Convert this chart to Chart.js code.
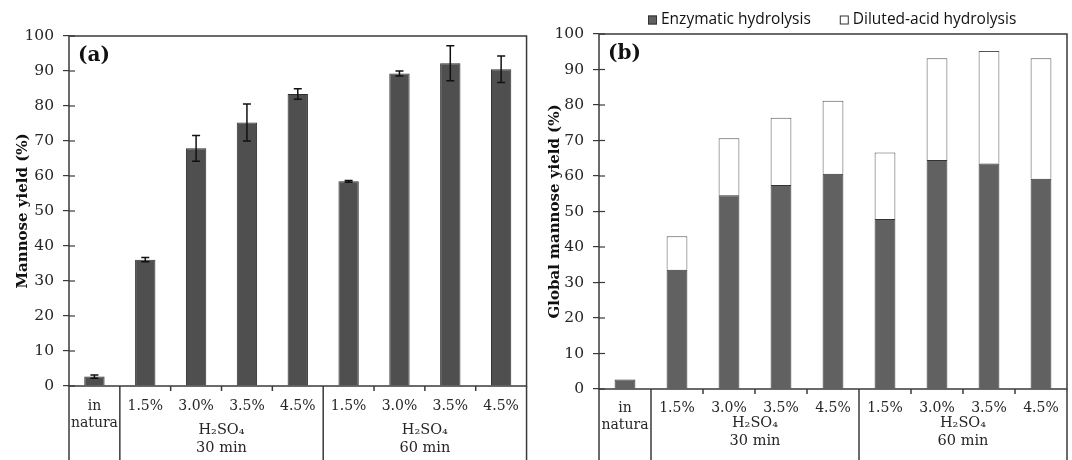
<!DOCTYPE html>
<html>
<head>
<meta charset="utf-8">
<script src="https://cdn.jsdelivr.net/npm/chart.js@4/dist/chart.umd.min.js"></script>
<style>
  body { margin: 0; background: #fff; }
  #wrap { position: relative; width: 1072px; height: 460px; }
  #chartA { position: absolute; left: 0; top: 0; }
  #chartB { position: absolute; left: 531px; top: 0; }
</style>
</head>
<body>
<div id="wrap">
  <canvas id="chartA" width="531" height="460"></canvas>
  <canvas id="chartB" width="541" height="460"></canvas>
</div>
<script>
// values
let categories = [['in', 'natura'], '1.5%', '3.0%', '3.5%', '4.5%', '1.5%', '3.0%', '3.5%', '4.5%'];
let mannose_yield = [2.7, 36.1, 67.9, 75.3, 83.4, 58.5, 89.3, 92.2, 90.5];
let mannose_err = [0.45, 0.6, 3.7, 5.3, 1.5, 0.25, 0.7, 5.0, 3.8];
let enzymatic = [2.7, 33.6, 54.6, 57.5, 60.6, 47.9, 64.5, 63.5, 59.2];
let diluted_acid = [0, 9.4, 16.0, 18.9, 20.6, 18.7, 28.7, 31.7, 34.0];
let groups = [
  { from: 1, to: 4, lines: ['H₂SO₄', '30 min'] },
  { from: 5, to: 8, lines: ['H₂SO₄', '60 min'] }
];
let y_min = 0, y_max = 100, y_step = 10;

let serif = '"DejaVu Serif", serif';
let line_col = '#3a3a3a';
let text_col = '#262626';

// box round the plot, category separators, cross ticks, group labels, panel letter
const framePlugin = {
  id: 'frame',
  afterDraw(chart, args, opts) {
    const ctx = chart.ctx;
    const a = chart.chartArea;
    const xs = chart.scales.x;
    const ys = chart.scales.y;
    const n = chart.data.labels.length;
    const half = (xs.getPixelForValue(1) - xs.getPixelForValue(0)) / 2;
    ctx.save();
    ctx.strokeStyle = line_col;
    ctx.lineWidth = 1.5;
    ctx.strokeRect(a.left, a.top, a.right - a.left, a.bottom - a.top);

    // boundaries under the axis
    let longOnes = [0, n];
    groups.forEach(g => longOnes.push(g.from));
    for (let k = 0; k <= n; k++) {
      let px = k < n ? xs.getPixelForValue(k) - half : xs.getPixelForValue(n - 1) + half;
      let bottom = longOnes.includes(k) ? chart.height : a.bottom + 5;
      ctx.beginPath();
      ctx.moveTo(px, a.bottom);
      ctx.lineTo(px, bottom);
      ctx.stroke();
    }

    // inner half of the y ticks
    ctx.lineWidth = 1.2;
    ys.ticks.forEach(t => {
      let py = ys.getPixelForValue(t.value);
      ctx.beginPath();
      ctx.moveTo(a.left, py);
      ctx.lineTo(a.left + 6, py);
      ctx.stroke();
    });

    // group labels
    ctx.fillStyle = text_col;
    ctx.font = '14.5px ' + serif;
    ctx.textAlign = 'center';
    ctx.textBaseline = 'middle';
    groups.forEach(g => {
      let cx = (xs.getPixelForValue(g.from) + xs.getPixelForValue(g.to)) / 2;
      g.lines.forEach((txt, i) => {
        ctx.fillText(txt, cx, a.bottom + opts.lineOffsets[i]);
      });
    });

    // panel letter
    ctx.fillStyle = '#111';
    ctx.font = 'bold 20px ' + serif;
    ctx.textAlign = 'left';
    ctx.fillText(opts.letter, a.left + 9, a.top + opts.letterDy);
    ctx.restore();
  }
};

// error bars for panel (a)
const errorBarPlugin = {
  id: 'errorBars',
  afterDatasetsDraw(chart, args, opts) {
    if (!opts.errors) return;
    const ctx = chart.ctx;
    const ys = chart.scales.y;
    const meta = chart.getDatasetMeta(0);
    const vals = chart.data.datasets[0].data;
    ctx.save();
    ctx.strokeStyle = '#111';
    ctx.lineWidth = 1.5;
    meta.data.forEach((bar, i) => {
      let top = ys.getPixelForValue(vals[i] + opts.errors[i]);
      let bot = ys.getPixelForValue(vals[i] - opts.errors[i]);
      ctx.beginPath();
      ctx.moveTo(bar.x, top); ctx.lineTo(bar.x, bot);
      ctx.moveTo(bar.x - 4, top); ctx.lineTo(bar.x + 4, top);
      ctx.moveTo(bar.x - 4, bot); ctx.lineTo(bar.x + 4, bot);
      ctx.stroke();
    });
    ctx.restore();
  }
};

// legend drawn above panel (b)
const topLegendPlugin = {
  id: 'topLegend',
  afterDraw(chart, args, opts) {
    if (!opts.x) return;
    const ctx = chart.ctx;
    ctx.save();
    ctx.font = '15.5px "Open Sans", sans-serif';
    ctx.textBaseline = 'middle';
    ctx.textAlign = 'left';
    let x = opts.x;
    chart.data.datasets.forEach(ds => {
      ctx.fillStyle = ds.backgroundColor;
      ctx.strokeStyle = '#333';
      ctx.lineWidth = 1;
      ctx.fillRect(x, opts.y - 4.5, 9, 9);
      ctx.strokeRect(x + 0.5, opts.y - 4, 8, 8);
      ctx.fillStyle = '#111';
      ctx.fillText(ds.label, x + 13, opts.y);
      x += 13 + ctx.measureText(ds.label).width + 29;
    });
    ctx.restore();
  }
};

function makeOptions(cfg) {
  return {
    responsive: false,
    animation: false,
    devicePixelRatio: 1,
    layout: { padding: { top: cfg.top, right: cfg.right, left: 0, bottom: 0 } },
    plugins: {
      legend: { display: false },
      tooltip: { enabled: false },
      frame: { letter: cfg.letter, letterDy: cfg.letterDy, lineOffsets: cfg.lineOffsets },
      errorBars: { errors: cfg.errors },
      topLegend: cfg.legend || {}
    },
    scales: {
      x: {
        stacked: cfg.stacked,
        border: { display: false },
        grid: { display: false, drawTicks: false },
        ticks: { font: { family: serif, size: 14 }, color: text_col, padding: cfg.tickPad, maxRotation: 0, autoSkip: false },
        afterFit: s => { s.height = cfg.xHeight; }
      },
      y: {
        stacked: cfg.stacked,
        min: y_min, max: y_max,
        border: { display: false },
        grid: { drawOnChartArea: false, tickLength: 6, color: line_col, lineWidth: 1.2 },
        ticks: { stepSize: y_step, font: { family: serif, size: 15.5 }, color: text_col, padding: 9 },
        title: { display: true, text: cfg.yTitle, font: { family: serif, size: 15, weight: 'bold' }, color: '#111', padding: { top: cfg.titlePad, bottom: 0 } },
        afterFit: s => { s.width = cfg.yWidth; }
      }
    }
  };
}

let chartA = new Chart(document.getElementById('chartA'), {
  type: 'bar',
  data: {
    labels: categories,
    datasets: [{
      label: 'Mannose yield',
      data: mannose_yield,
      backgroundColor: '#4f4f4f',
      borderColor: '#2e2e2e',
      borderWidth: 1,
      barPercentage: 0.4,
      categoryPercentage: 1
    }]
  },
  options: makeOptions({
    top: 36, right: 1.5, stacked: false, letter: '(a)', letterDy: 20,
    lineOffsets: [44, 62], tickPad: 12, xHeight: 74, yWidth: 69,
    yTitle: 'Mannose yield (%)', titlePad: 14, errors: mannose_err
  }),
  plugins: [framePlugin, errorBarPlugin]
});

let chartB = new Chart(document.getElementById('chartB'), {
  type: 'bar',
  data: {
    labels: categories,
    datasets: [{
      label: 'Enzymatic hydrolysis',
      data: enzymatic,
      backgroundColor: '#616161',
      borderColor: '#333',
      borderWidth: 1,
      barPercentage: 0.4,
      categoryPercentage: 1
    }, {
      label: 'Diluted-acid hydrolysis',
      data: diluted_acid,
      backgroundColor: '#ffffff',
      borderColor: '#555',
      borderWidth: 1,
      barPercentage: 0.4,
      categoryPercentage: 1
    }]
  },
  options: makeOptions({
    top: 34, right: 5, stacked: true, letter: '(b)', letterDy: 20,
    lineOffsets: [34, 52], tickPad: 11, xHeight: 71, yWidth: 68,
    yTitle: 'Global mannose yield (%)', titlePad: 15, errors: null,
    legend: { x: 648 - 531, y: 20 }
  }),
  plugins: [framePlugin, errorBarPlugin, topLegendPlugin]
});
</script>
</body>
</html>
